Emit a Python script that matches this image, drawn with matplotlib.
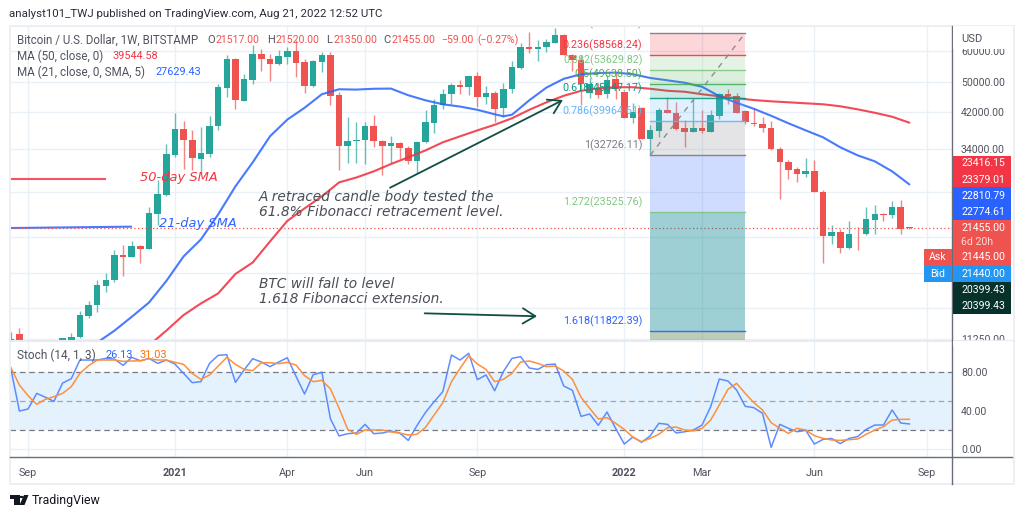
import numpy as np
import matplotlib
matplotlib.use("Agg")
import matplotlib.pyplot as plt
from matplotlib.patches import Rectangle, Polygon, Circle
from matplotlib.lines import Line2D

W, H = 1024, 517

# weekly BTC/USD candles
opens = [10850, 11620, 10850, 10300, 10400, 10650, 10550, 11200, 11400, 12900,
         13680, 15360, 15840, 18370, 18110, 19310, 19020, 23310, 26040, 32850,
         38050, 35840, 32090, 33040, 38730, 48300, 57400, 44950, 50790, 59100,
         57400, 55540, 57940, 59990, 56180, 48870, 56400, 58520, 46380, 34540,
         35490, 35690, 38890, 35550, 34540, 35150, 34220, 31590, 35290, 39570,
         43760, 46840, 49240, 48670, 51790, 45920, 47110, 43070, 48210, 54480,
         61420, 60700, 61310, 63000, 65740, 58760, 57060, 46920, 48300, 46650,
         50880, 47270, 40730, 43180, 36050, 37670, 42490, 41940, 38340, 37460,
         38430, 37460, 41120, 46840, 46300, 42250, 39570, 39340, 38430, 34010,
         31540, 30160, 29300, 29860, 26430, 20430, 20950, 19130, 20750, 20670,
         22410, 23310, 23080, 24220, 21517]
highs = [11750, 12030, 11000, 10600, 10750, 10900, 11350, 11690, 13280, 14000,
         15905, 16480, 18830, 19470, 19840, 19390, 24220, 28280, 34880, 41940,
         39930, 37820, 38570, 41050, 49640, 58520, 57500, 52610, 62030, 60840,
         59100, 60230, 61420, 63830, 57400, 56820, 59650, 59650, 47190, 40890,
         39700, 39700, 41290, 35690, 36540, 35290, 34540, 35490, 42490, 45300,
         48210, 49900, 50790, 51900, 53090, 48870, 47540, 49730, 56500, 62860,
         67000, 63830, 64480, 68720, 66380, 59100, 58520, 51190, 49930, 52090,
         52700, 47540, 44340, 43330, 38950, 42990, 45920, 44600, 40090, 45490,
         42490, 42490, 46920, 48210, 47110, 42490, 43180, 40890, 39930, 34340,
         31770, 30580, 32280, 31770, 26680, 21780, 21360, 22280, 21570, 24180,
         24560, 23390, 25040, 25180, 21520]
lows = [10650, 10650, 9900, 9900, 10200, 10400, 10400, 11200, 11350, 12700,
        13150, 14780, 15720, 16220, 18080, 17490, 18940, 21780, 25830, 32430,
        30280, 29980, 29470, 32400, 37980, 45920, 42920, 44800, 49440, 53310,
        50380, 55220, 55540, 51610, 47000, 48780, 53090, 43760, 29980, 31230,
        31230, 31180, 34340, 29130, 31230, 32050, 31180, 29470, 35150, 37330,
        42920, 44010, 46650, 46380, 43330, 44010, 39700, 40890, 47110, 53930,
        59310, 56600, 59650, 63000, 58520, 53400, 43760, 45570, 45570, 45570,
        45300, 40570, 39410, 36000, 32910, 36390, 41770, 37980, 34340, 37400,
        37240, 37400, 40500, 44190, 41790, 39180, 38730, 37460, 33670, 25430,
        28550, 28010, 28840, 26380, 17490, 19500, 18580, 19020, 18860, 20650,
        20670, 22280, 22720, 20750, 21350]
closes = [11230, 10850, 10300, 10400, 10650, 10550, 11300, 11420, 12960, 13730,
          15430, 15900, 18370, 18110, 19310, 19020, 23440, 26185, 32910, 38050,
          35690, 32150, 33160, 38890, 48670, 57400, 45030, 50880, 59100, 57160,
          55540, 58180, 59990, 56080, 48870, 56600, 58520, 46190, 34540, 35550,
          35840, 38890, 35490, 34540, 35150, 34140, 31590, 35350, 39700, 43940,
          46840, 49240, 48670, 51790, 45920, 47110, 42920, 48210, 54670, 61420,
          60590, 61420, 63220, 65740, 58760, 57060, 49640, 49440, 46380, 50580,
          48210, 40730, 42080, 36050, 37820, 42490, 41840, 38050, 37460, 38430,
          37670, 41290, 46840, 46110, 41840, 39700, 39180, 38340, 33930, 31410,
          30110, 29300, 29860, 26430, 20430, 20950, 19130, 20750, 20670, 22540,
          23310, 23080, 24220, 21360, 21455]

# moving averages, read every second week
ma21_weeks = [10, 12, 14, 16, 18, 20, 22, 24, 26, 28, 30, 32, 34, 36, 38, 40, 42, 44, 46, 48,
              50, 52, 54, 56, 57, 58, 60, 62, 64, 66, 68, 70, 72, 74, 76, 78, 80, 82, 84, 86,
              88, 90, 92, 94, 96, 98, 100, 102, 104]
ma21 = [11030, 11820, 12810, 13920, 15770, 18190, 20070, 23210, 27320, 31410, 36540, 40260,
        43120, 46650, 48020, 47930, 48160, 48210, 46380, 45030, 44010, 43430, 42620, 41530,
        41050, 41410, 45030, 48500, 51030, 52400, 52760, 52910, 52400, 51280, 50580, 49870,
        48730, 46110, 44400, 42870, 41170, 39410, 37820, 36330, 34280, 32720, 31590, 29810,
        27629.43]
ma50_weeks = [16, 18, 20, 22, 24, 26, 28, 30, 32, 34, 36, 38, 40, 42, 44, 46, 48, 50, 52, 54,
              56, 58, 60, 62, 64, 66, 68, 70, 72, 74, 76, 78, 80, 82, 84, 86, 88, 90, 92, 94,
              96, 98, 100, 102, 104]
ma50 = [10850, 11820, 12940, 13840, 14670, 16430, 17560, 19840, 22350, 24040, 25780, 27960,
        28770, 29810, 31110, 32340, 33670, 35290, 36540, 37820, 39070, 40570, 42610, 44520,
        46240, 47590, 48300, 48590, 48590, 48160, 47600, 47330, 46650, 46110, 45570, 45110,
        44770, 44520, 44260, 44010, 43500, 42740, 41890, 40940, 39544.58]

# stochastic oscillator
stoch_k = [84, 39.6, 41.7, 58, 54, 49.7, 68.8, 73.3, 92.8, 92.8,
           92.8, 94.5, 93.8, 87.2, 95.6, 92, 94.5, 89.3, 92.8, 88.6,
           78.9, 69.2, 70.2, 89.3, 97.7, 98.4, 69.5, 82.4, 94.2, 90.7,
           85.9, 90.7, 95.2, 76, 57.4, 77.5, 80, 31.3, 13.6, 16,
           16.7, 25.7, 16, 16.7, 18.8, 16.7, 9, 24.3, 38.2, 49.4,
           59.8, 98, 92.8, 99.8, 72.3, 77.2, 60.8, 80.6, 94.5, 96.3,
           84.5, 83, 88, 88.6, 65.7, 61.2, 34, 36.5, 24.7, 38.6,
           21.6, 5.2, 12.5, 7, 13.6, 26.8, 25.7, 16.7, 18, 19.8,
           25, 44.1, 73, 70.9, 61.5, 44.5, 43.1, 37.2, 1.7, 25.7,
           21.6, 18, 19.5, 5.2, 10, 11, 5.6, 11, 12.9, 20.5,
           25, 25, 40.7, 27.1, 26.13]
stoch_d = [85, 66.7, 55.6, 46.6, 51.8, 54.6, 58, 65, 78.9, 86.9,
           92.8, 92.8, 92.8, 91.4, 91.8, 92, 94.2, 92.8, 92.8, 90.4,
           88.3, 78.9, 72.6, 77.2, 86.5, 95.6, 88.3, 83, 81.7, 90,
           90, 89, 90.4, 87.6, 76.5, 70.2, 71.6, 62.6, 42.4, 20.5,
           15.3, 19.8, 19.8, 19.8, 17.7, 16.7, 14.6, 15.3, 22.6, 35.5,
           48.3, 70.2, 84.1, 97.3, 88.6, 83, 70.2, 72.6, 78.9, 90.7,
           91.8, 89.3, 85.9, 86.5, 81.3, 72.6, 53.9, 42.4, 31.3, 32.7,
           26.8, 20.5, 12.2, 7.6, 11.1, 15.3, 22.2, 22.9, 19.8, 18.8,
           21.6, 30.2, 45.9, 62.2, 68.5, 58, 48.3, 40.7, 27.5, 21.6,
           16.3, 21.6, 19.8, 13.9, 11.1, 9.4, 9, 9.7, 10.4, 15.3,
           19.8, 23.3, 30.2, 30.9, 31.03]

# fibonacci tool
fib_start, fib_end = 74, 85
fib_ratios = ["0", "0.236", "0.382", "0.5", "0.618", "0.786", "1", "1.272", "1.618"]
fib_prices = [66550.91, 58568.24, 53629.82, 49638.50, 45647.17, 39964.61, 32726.11, 23525.76, 11822.39]
fib_line_colors = ["#787b86", "#f23645", "#81c784", "#4caf50", "#089981", "#64b5f6", "#787b86", "#81c784", "#2962ff"]
fib_fill_colors = ["#f23645", "#81c784", "#4caf50", "#089981", "#64b5f6", "#787b86", "#2962ff", "#00838f", "#6b8f5f"]
fib_fill_alpha = [0.2, 0.2, 0.2, 0.2, 0.2, 0.2, 0.22, 0.38, 0.45]

# scale levels; the ones behind the price tags carry no label
price_ticks = [60000, 50000, 42000, 34000, 26500, 20400, 16500, 13450, 11250]
price_labels = ["60000.00", "50000.00", "42000.00", "34000.00", "", "", "", "", "11250.00"]
stoch_ticks = [80, 40, 0]
week_ticks = [2, 19, 32, 41, 54, 71, 80, 93, 106]
week_labels = ["Sep", "2021", "Apr", "Jun", "Sep", "2022", "Mar", "Jun", "Sep"]

# price tags on the right scale: value, top, bottom, colour
tag_labels = ["23416.15", "23379.01", "22810.79", "22774.61", "21455.00", "6d 20h", "21445.00", "21440.00", "20399.43", "20399.43"]
tag_centres = [163.5, 180, 196, 211.7, 228.3, 241.7, 257.3, 273.7, 290, 305.7]
tag_boxes = [(155.7, 187.3, "#f23645"), (187.3, 219.7, "#2962ff"), (219.7, 265.7, "#ef5350"),
             (265.7, 281.7, "#2196f3"), (281.7, 313.5, "#07322b")]

GREEN = "#26a69a"
RED = "#ef5350"
GRID = "#e9f0f6"
TEXT = "#50535e"
FONT = "Roboto"
plt.rcParams["font.family"] = [FONT, "DejaVu Sans"]

fig = plt.figure(figsize=(W / 100, H / 100), dpi=100, facecolor="white")


def box(x0, y0, x1, y1):
    # axes rectangle from pixel edges, y counted from the top
    return [x0 / W, 1 - y1 / H, (x1 - x0) / W, (y1 - y0) / H]


def label(x, y, s, color=TEXT, size=7.6, ha="left", **kw):
    kw.setdefault("zorder", 20)
    return fig.text(x / W, 1 - y / H, s, color=color, fontsize=size, ha=ha, va="center", **kw)


def fig_rect(x0, y0, x1, y1, **kw):
    r = Rectangle((x0 / W, 1 - y1 / H), (x1 - x0) / W, (y1 - y0) / H, transform=fig.transFigure, **kw)
    fig.add_artist(r)
    return r


def fig_line(xs, ys, **kw):
    fig.add_artist(Line2D([x / W for x in xs], [1 - y / H for y in ys], transform=fig.transFigure, **kw))


ax = fig.add_axes(box(10, 26, 952, 340))
ax2 = fig.add_axes(box(10, 342, 952, 457.3), sharex=ax)

# price pane
ax.set_yscale("log")
ax.set_xlim(-0.09, 108.93)
ax.set_ylim(11195, 69340)
ax.grid(True, color=GRID, lw=1.0, zorder=0)
ax.set_axisbelow(True)

o = np.array(opens, dtype=float)
h = np.array(highs, dtype=float)
l = np.array(lows, dtype=float)
c = np.array(closes, dtype=float)
weeks = np.arange(len(o))
colors = np.where(c >= o, GREEN, RED)
ax.vlines(weeks, l, h, colors=colors, lw=1.0, alpha=0.7, zorder=3)
ax.bar(weeks, np.maximum(np.abs(c - o), o * 0.002), bottom=np.minimum(o, c), width=0.76, color=colors, lw=0, zorder=3)

ax.plot(ma50_weeks, ma50, color="#f23645", lw=1.5, alpha=0.9, zorder=4, solid_capstyle="round")
ax.plot(ma21_weeks, ma21, color="#2962ff", lw=1.5, alpha=0.85, zorder=4, solid_capstyle="round")

# hand drawn level lines with their captions
ax.plot([-0.09, 10.9], [28560, 28560], color="#f23645", lw=1.5, alpha=0.85, zorder=4)
ax.plot([-0.09, 13.9], [21450, 21620], color="#2962ff", lw=1.5, alpha=0.85, zorder=4)
ax.axhline(closes[-1], color=RED, lw=0.9, ls=(0, (1, 2)), zorder=4)

# fibonacci retracement zones
for i in range(len(fib_prices)):
    top = fib_prices[i]
    bottom = fib_prices[i + 1] if i + 1 < len(fib_prices) else ax.get_ylim()[0]
    ax.fill_between([fib_start, fib_end], bottom, top, color=fib_fill_colors[i], alpha=fib_fill_alpha[i], lw=0, zorder=5)
    ax.plot([fib_start, fib_end], [top, top], color=fib_line_colors[i], lw=1.0, alpha=0.9, zorder=5)
    ax.annotate(f"{fib_ratios[i]}({top:.2f})", xy=(fib_start, top), xytext=(-5.6, 6.9),
                textcoords="offset points", ha="right", va="center", fontsize=7.75,
                color=fib_line_colors[i], zorder=7, annotation_clip=False, clip_on=True)
ax.plot([fib_start, fib_end], [fib_prices[6], fib_prices[0]], color="#8a8d96", lw=1.0, ls=(0, (4, 4)), zorder=6)

# arrows on the chart
arrow = dict(arrowstyle="->,head_length=0.9,head_width=0.55", color="#0f4f43", lw=1.3, shrinkA=0, shrinkB=0)
ax.annotate("", xy=(63.9, 45110), xytext=(43.9, 27110), arrowprops=arrow, zorder=6)
ax.annotate("", xy=(60.9, 12850), xytext=(47.9, 13070), arrowprops=arrow, zorder=6)

ax.yaxis.tick_right()
ax.set_yticks(price_ticks)
ax.set_yticklabels(price_labels)
ax.minorticks_off()
ax.tick_params(axis="y", length=0, pad=6.5, labelsize=7.6, labelcolor=TEXT)
ax.tick_params(axis="x", length=0, labelbottom=False)

# stochastic pane
ax2.set_ylim(-8.65, 111.6)
ax2.axhspan(20, 80, color="#e3f2fd", lw=0, zorder=1)
ax2.grid(True, color=GRID, lw=1.0, zorder=2)
ax2.set_axisbelow(False)
for level, col in [(80, "#787b86"), (50, "#a3a6af"), (20, "#787b86")]:
    ax2.axhline(level, color=col, lw=0.9, ls=(0, (4.5, 3)), zorder=3)
ax2.plot(weeks, stoch_k, color="#4f80ff", lw=1.1, alpha=0.9, zorder=4)
ax2.plot(weeks, stoch_d, color="#ff8f3c", lw=1.1, zorder=5)
ax2.yaxis.tick_right()
ax2.set_yticks(stoch_ticks)
ax2.set_yticklabels([f"{t:.2f}" for t in stoch_ticks])
ax2.tick_params(axis="y", length=0, pad=6.5, labelsize=7.6, labelcolor=TEXT)
ax2.set_xticks(week_ticks)
ax2.set_xticklabels(week_labels)
ax2.tick_params(axis="x", length=0, pad=7.5, labelsize=7.8, labelcolor=TEXT)
for t in ax2.get_xticklabels():
    if t.get_text().isdigit():
        t.set_fontweight("bold")

for a in (ax, ax2):
    for s in a.spines.values():
        s.set_visible(False)
    a.patch.set_alpha(0)

# frame and pane separators
fig_rect(9.5, 25.5, 1014, 484, fill=False, ec="#eceff4", lw=1.4, zorder=6)
fig_line([10, 1014], [341, 341], color="#e8ebf1", lw=1.5, zorder=6)
fig_line([10, 1012], [457.3, 457.3], color="#6a6d78", lw=1.0, zorder=6)
fig_line([952.3, 952.3], [26, 483.5], color="#6a6d78", lw=1.0, zorder=7)

# scale header and clipped labels
fig_rect(953, 26.5, 1013, 49, fc="white", lw=0, zorder=8)
fig_rect(953, 340.7, 1013, 346, fc="white", lw=0, zorder=8)
label(961, 38.5, "USD", size=8, zorder=9)

# price tags
for y0, y1, col in tag_boxes:
    fig_rect(952.5, y0, 1011, y1, fc=col, lw=0, zorder=10)
for y, s in zip(tag_centres, tag_labels):
    label(961, y, s, color="#ffd9d6" if s == "6d 20h" else "white", zorder=11)
fig_rect(923.5, 249, 952, 265.7, fc="#ef5350", lw=0, zorder=10)
fig_rect(924, 265.7, 952, 281.7, fc="#2196f3", lw=0, zorder=10)
label(937.5, 257.3, "Ask", color="white", ha="center", zorder=11)
label(937.5, 273.7, "Bid", color="white", ha="center", zorder=11)

# header and legends
label(9, 14, "analyst101_TWJ published on TradingView.com, Aug 21, 2022 12:52 UTC", color="#2a2e39", size=8.25)
label(17, 40, "Bitcoin / U.S. Dollar, 1W, BITSTAMP", size=8.3)
for x, s in [(207, "O"), (267, "H"), (326, "L"), (383, "C")]:
    label(x, 40, s, size=8)
for x, s in [(216, "21517.00"), (275, "21520.00"), (333, "21350.00"), (391, "21455.00"),
             (441, "\u221259.00"), (477, "(\u22120.27%)")]:
    label(x, 40, s, color=RED)
label(17, 56, "MA (50, close, 0)", size=8.4)
label(112, 56, "39544.58", color="#f23645", size=7.8)
label(17, 72, "MA (21, close, 0, SMA, 5)", size=8.4)
label(155, 72, "27629.43", color="#2962ff", size=7.8)
label(17, 355, "Stoch (14, 1, 3)", size=8.6)
label(105, 355, "26.13", color="#2962ff", size=7.8)
label(139, 355, "31.03", color="#ff6d00", size=7.8)

# notes on the chart
note = dict(family="DejaVu Sans", style="italic", zorder=9)
label(259, 197, "A retraced candle body tested the", color="#4b4e57", size=9.9, **note)
label(259, 212, "61.8% Fibonacci retracement level.", color="#4b4e57", size=9.9, **note)
label(259, 284, "BTC will fall to level", color="#4b4e57", size=9.9, **note)
label(259, 299, "1.618 Fibonacci extension.", color="#4b4e57", size=9.9, **note)
label(140, 178, "50-day SMA", color="#f23645", size=9.4, **note)
label(159, 223, "21-day SMA", color="#2962ff", size=9.4, **note)

# TradingView mark
for pts in ([(10, 495), (19.5, 495), (19.5, 505), (14, 505), (14, 499), (10, 499)],
            [(24, 495), (28.5, 495), (24.5, 505), (19.5, 505)]):
    fig.add_artist(Polygon([(x / W, 1 - y / H) for x, y in pts], closed=True, fc="#131722", lw=0,
                           transform=fig.transFigure))
fig.add_artist(Circle((21.5 / W, 1 - 497 / H), 0.0022, fc="#131722", lw=0, transform=fig.transFigure))
label(32, 500.5, "TradingView", color="#131722", size=8.9)

fig.savefig("out.png", dpi=100)
